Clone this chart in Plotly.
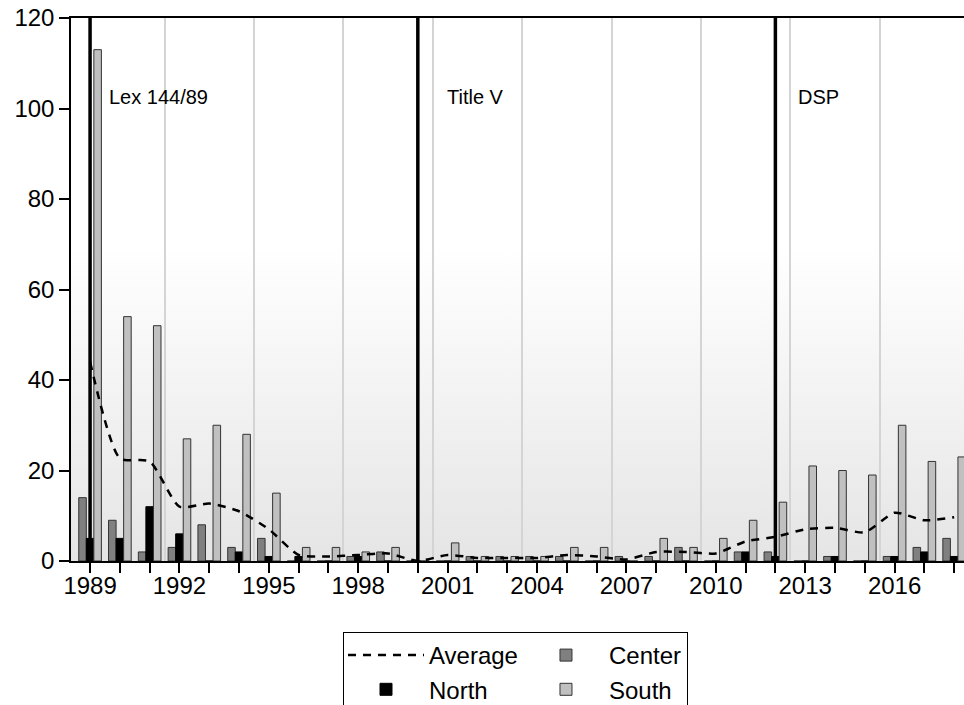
import base64
import plotly.graph_objects as go

years = list(range(1989, 2019))
center = [14, 9, 2, 3, 8, 3, 5, 0, 0, 1, 2, 0, 0, 1, 1, 1, 1, 0, 1, 1, 3, 0, 2, 2, 0, 1, 0, 1, 3, 5]
north = [5, 5, 12, 6, 0, 2, 1, 1, 0, 1, 0, 0, 0, 0, 0, 0, 0, 0, 0, 0, 0, 0, 2, 1, 0, 1, 0, 1, 2, 1]
south = [113, 54, 52, 27, 30, 28, 15, 3, 3, 2, 3, 0, 4, 1, 1, 1, 3, 3, 0, 5, 3, 5, 9, 13, 21, 20, 19, 30, 22, 23]
average = [44, 22.7, 22, 12, 12.7, 11, 7, 1.33, 1, 1.33, 1.67, 0, 1.33, 0.67, 0.67, 0.67, 1.33, 1, 0.33, 2,
           2, 1.67, 4.33, 5.33, 7, 7.33, 6.33, 10.67, 9, 9.67]
tick_labels = ["1989", "1992", "1995", "1998", "2001", "2004", "2007", "2010", "2013", "2016"]
y_ticks = [0, 20, 40, 60, 80, 100, 120]
grid_years = [1991.5, 1994.5, 1997.5, 2000.5, 2003.5, 2006.5, 2009.5, 2012.5, 2015.5]
event_years = [1989, 2000, 2012]
event_labels = ["Lex 144/89", "Title V", "DSP"]
event_label_shift = [17, 27, 21]

FONT = "Liberation Sans, Arial, sans-serif"

W, H = 964, 705
ML, MT, MB = 71, 18, 144
PW, PH = W - ML, H - MT - MB

fig = go.Figure()
fig.add_trace(go.Scatter(
    x=years, y=average, name="Average", mode="lines", legendgroup="a",
    line=dict(color="black", width=2.5, dash="8px,7px", shape="spline", smoothing=0.6),
))
fig.add_trace(go.Bar(x=years, y=center, name="Center", legendgroup="b",
                     marker=dict(color="#808080", line=dict(color="#333333", width=1))))
fig.add_trace(go.Bar(x=years, y=north, name="North", legendgroup="a",
                     marker=dict(color="#000000", line=dict(color="#000000", width=1))))
fig.add_trace(go.Bar(x=years, y=south, name="South", legendgroup="b",
                     marker=dict(color="#c0c0c0", line=dict(color="#333333", width=1))))

for yr, lab, sh in zip(event_years, event_labels, event_label_shift):
    fig.add_vline(x=yr, line_color="black", line_width=3.5, layer="above")
    fig.add_annotation(x=yr, y=102.5, xref="x", yref="y", text=lab, showarrow=False,
                       xanchor="left", yanchor="middle", xshift=sh,
                       font=dict(family=FONT, size=20, color="black"))

svg = ('<svg xmlns="http://www.w3.org/2000/svg" width="10" height="100" viewBox="0 0 10 100" '
       'preserveAspectRatio="none"><defs><linearGradient id="g" x1="0" y1="0" x2="0" y2="1">'
       '<stop offset="0" stop-color="#ffffff"/><stop offset="0.42" stop-color="#ffffff"/>'
       '<stop offset="1" stop-color="#e5e5e5"/></linearGradient></defs>'
       '<rect x="0" y="0" width="10" height="100" fill="url(#g)"/></svg>')
src = "data:image/svg+xml;base64," + base64.b64encode(svg.encode()).decode()
fig.add_layout_image(dict(source=src, xref="paper", yref="paper", x=0, y=1, sizex=1, sizey=1,
                          xanchor="left", yanchor="top", sizing="stretch", layer="below"))

fig.update_layout(
    width=W, height=H,
    margin=dict(l=ML, r=0, t=MT, b=MB, autoexpand=False),
    paper_bgcolor="white", plot_bgcolor="rgba(0,0,0,0)",
    barmode="group", bargap=0.24, bargroupgap=0,
    font=dict(family=FONT, size=24, color="black"),
    legend=dict(orientation="h", traceorder="grouped", x=(343 - ML) / PW, xanchor="left",
                y=-(632 - MT - PH) / PH, yanchor="top", bordercolor="black", borderwidth=1,
                font=dict(family=FONT, size=24, color="black"), tracegroupgap=16,
                itemwidth=76, bgcolor="white"),
    xaxis=dict(range=[1988.36, 2018.33], tickmode="array", tickvals=years,
               ticktext=[str(y) if str(y) in tick_labels else "" for y in years],
               ticks="outside", ticklen=10, tickwidth=1.5, tickcolor="black",
               ticklabelstandoff=-8, ticklabeloverflow="allow",
               showline=True, linecolor="black", linewidth=1.5, mirror=True,
               showgrid=False, zeroline=False, automargin=False,
               minor=dict(tickmode="array", tickvals=grid_years, showgrid=True,
                          gridcolor="#d4d4d4", gridwidth=1.5, ticks=""),
               tickfont=dict(family=FONT, size=24, color="black")),
    yaxis=dict(range=[0, 120], tickmode="array", tickvals=y_ticks,
               ticks="outside", ticklen=10, tickwidth=1.5, tickcolor="black",
               ticklabeloverflow="allow",
               showline=True, linecolor="black", linewidth=1.5,
               showgrid=False, zeroline=False, automargin=False,
               tickfont=dict(family=FONT, size=24, color="black")),
)

fig.write_html("out.html", config={"displayModeBar": False},
               post_script="document.body.style.margin='0';")
